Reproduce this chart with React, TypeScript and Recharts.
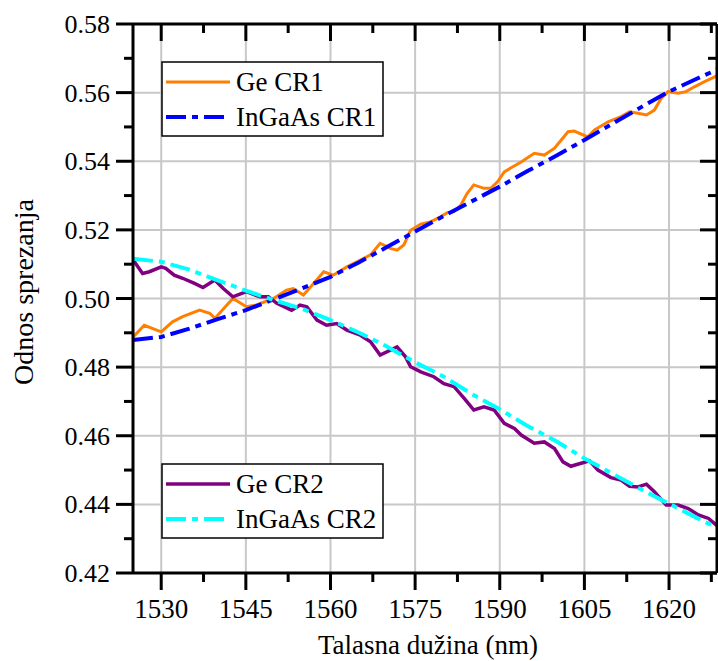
import React from 'react';
import { LineChart, Line, XAxis, YAxis, CartesianGrid, ReferenceLine, Customized } from 'recharts';

const FONT = 'Liberation Serif';

// plot frame size, used only for the mirrored ticks on the top / right edges
const PLOT_H = 549;
const PLOT_W = 584;

// tick labels
const xMajor = [1530, 1545, 1560, 1575, 1590, 1605, 1620];
const xMinor = [1537.5, 1552.5, 1567.5, 1582.5, 1597.5, 1612.5, 1627.5];
const yMajor = [0.42, 0.44, 0.46, 0.48, 0.5, 0.52, 0.54, 0.56, 0.58];
const yMinor = [0.43, 0.45, 0.47, 0.49, 0.51, 0.53, 0.55, 0.57];

// Ge CR1
const geCr1Wl = [
  1525, 1527, 1530, 1532, 1533.8, 1536.8, 1538.6, 1539.5, 1542.7, 1545.1, 1546.9, 1549.9,
  1552.2, 1553.4, 1555.2, 1557, 1558.8, 1560.5, 1562.9, 1565.3, 1567.1, 1568.8, 1570.6,
  1571.8, 1573, 1574.2, 1576, 1577.8, 1579.5, 1580.7, 1581.9, 1583.1, 1584.2, 1585.4,
  1587.2, 1588.4, 1589.6, 1590.8, 1592, 1593.8, 1596.1, 1597.9, 1599.7, 1600.9, 1602.1,
  1603.2, 1605.6, 1606.8, 1609.2, 1611.5, 1613, 1614.5, 1616, 1617.4, 1618.6, 1619.8,
  1621.6, 1623, 1624.5, 1626.3, 1628.1, 1628.5,
];
const geCr1 = [
  0.4887, 0.4922, 0.4903, 0.4932, 0.4947, 0.4966, 0.4957, 0.4942, 0.5, 0.4976, 0.4981, 0.5,
  0.5024, 0.5029, 0.501, 0.5044, 0.5078, 0.5068, 0.5092, 0.5112, 0.5127, 0.5161, 0.5146,
  0.5141, 0.5156, 0.5199, 0.5217, 0.5224, 0.5238, 0.525, 0.5253, 0.5272, 0.5306, 0.5331,
  0.5321, 0.5321, 0.534, 0.5369, 0.5381, 0.5398, 0.5423, 0.5418, 0.5438, 0.5462, 0.5486,
  0.5488, 0.5471, 0.5491, 0.5515, 0.553, 0.5544, 0.554, 0.5535, 0.5549, 0.5583, 0.5603,
  0.5598, 0.5603, 0.5617, 0.5632, 0.5646, 0.565,
];

// Ge CR2
const geCr2Wl = [
  1525, 1526.7, 1527.9, 1530, 1530.8, 1532.3, 1533.8, 1535.9, 1537.4, 1539.5, 1541, 1542.7,
  1545.1, 1547.5, 1549, 1550.5, 1553.1, 1554.6, 1555.8, 1557.6, 1559.3, 1561.1, 1562.9,
  1565.3, 1567.1, 1568.8, 1571.8, 1573.3, 1574.2, 1576, 1578.3, 1580.1, 1581.9, 1583.7,
  1585.4, 1587.2, 1589, 1590.8, 1592.6, 1593.8, 1596.1, 1597.9, 1599.7, 1601.2, 1602.6,
  1605.9, 1607.4, 1609.7, 1611.5, 1613, 1614.5, 1616, 1617.4, 1619.5, 1621.6, 1623.4,
  1625.2, 1627, 1628.5,
];
const geCr2 = [
  0.5113, 0.5073, 0.5078, 0.5092, 0.5088, 0.5068, 0.5059, 0.5044, 0.5032, 0.5054, 0.5029, 0.5005,
  0.502, 0.5005, 0.5005, 0.4986, 0.4966, 0.4981, 0.4976, 0.4937, 0.4922, 0.4927, 0.4908,
  0.4893, 0.4874, 0.4835, 0.4859, 0.483, 0.4801, 0.4786, 0.4772, 0.4752, 0.4743, 0.4709,
  0.4675, 0.4684, 0.4675, 0.4636, 0.4621, 0.4602, 0.4578, 0.4582, 0.4563, 0.4524, 0.4511,
  0.4527, 0.45, 0.4478, 0.4471, 0.4453, 0.4451, 0.4459, 0.4437, 0.4398, 0.4398, 0.4388,
  0.4369, 0.4359, 0.4338,
];

// InGaAs
const inGaAsWl = [
  1525, 1530, 1535, 1540, 1545, 1550, 1555, 1560, 1565, 1570, 1575, 1580, 1585, 1590, 1595,
  1600, 1605, 1610, 1615, 1620, 1625, 1628.5,
];
const inGaAsCr1 = [
  0.4879, 0.4888, 0.4912, 0.494, 0.4966, 0.4998, 0.503, 0.5063, 0.5105, 0.515, 0.5195, 0.524,
  0.5283, 0.5326, 0.5372, 0.5416, 0.5462, 0.551, 0.5557, 0.5603, 0.5641, 0.5667,
];
const inGaAsCr2 = [
  0.5116, 0.5107, 0.5084, 0.5053, 0.5023, 0.4995, 0.497, 0.4937, 0.4901, 0.486, 0.4814, 0.4773,
  0.4722, 0.4677, 0.4628, 0.4584, 0.4534, 0.4489, 0.4444, 0.4402, 0.436, 0.4332,
];

const pts = (xs: number[], ys: number[]) => xs.map((x, i) => ({ x, y: ys[i] }));

const series = [
  { name: 'Ge CR1', data: pts(geCr1Wl, geCr1), color: '#ff8000', width: 3, dash: undefined },
  { name: 'InGaAs CR1', data: pts(inGaAsWl, inGaAsCr1), color: '#0000ff', width: 4, dash: '20 6 6 6' },
  { name: 'Ge CR2', data: pts(geCr2Wl, geCr2), color: '#800080', width: 3.5, dash: undefined },
  { name: 'InGaAs CR2', data: pts(inGaAsWl, inGaAsCr2), color: '#00ffff', width: 4, dash: '20 6 6 6' },
];

// bottom ticks point out (down), mirrored top ticks point in (down too)
const XTick = (props: any) => {
  const { x, y, payload } = props;
  const major = xMajor.includes(payload.value);
  const len = major ? 17 : 9;
  const top = y - PLOT_H;
  return (
    <g>
      <line x1={x} x2={x} y1={y} y2={y + len} stroke="#000" strokeWidth={3} />
      <line x1={x} x2={x} y1={top} y2={top + len} stroke="#000" strokeWidth={3} />
      {major && (
        <text x={x} y={y + 45} textAnchor="middle" fontSize={27} fontFamily={FONT} fill="#000">
          {payload.value}
        </text>
      )}
    </g>
  );
};

// left ticks point out (left), mirrored right ticks point in (left too)
const YTick = (props: any) => {
  const { x, y, payload } = props;
  const major = yMajor.includes(payload.value);
  const len = major ? 17 : 9;
  const right = x + PLOT_W;
  return (
    <g>
      <line x1={x} x2={x - len} y1={y} y2={y} stroke="#000" strokeWidth={3} />
      <line x1={right} x2={right - len} y1={y} y2={y} stroke="#000" strokeWidth={3} />
      {major && (
        <text x={x - 23} y={y + 9} textAnchor="end" fontSize={26} fontFamily={FONT} fill="#000">
          {payload.value.toFixed(2)}
        </text>
      )}
    </g>
  );
};

const LegendBox = ({ top, items }: { top: number; items: typeof series }) => (
  <g>
    <rect x={162} y={top} width={221} height={74} fill="#fff" stroke="#000" strokeWidth={1.5} />
    {items.map((s, i) => {
      const cy = top + 20 + i * 35;
      return (
        <g key={s.name}>
          <line x1={166} x2={230} y1={cy} y2={cy} stroke={s.color} strokeWidth={s.width} strokeDasharray={s.dash} />
          <text x={236} y={cy + 9} fontSize={27} fontFamily={FONT} fill="#000">
            {s.name}
          </text>
        </g>
      );
    })}
  </g>
);

const Overlay = () => (
  <g>
    <text x={33} y={292} transform="rotate(-90 33 292)" textAnchor="middle" fontSize={28} fontFamily={FONT} fill="#000">
      Odnos sprezanja
    </text>
    <text x={428} y={654} textAnchor="middle" fontSize={27} fontFamily={FONT} fill="#000">
      Talasna dužina (nm)
    </text>
    <LegendBox top={62} items={[series[0], series[1]]} />
    <LegendBox top={464} items={[series[2], series[3]]} />
  </g>
);

const xTicks = [...xMajor, ...xMinor].sort((a, b) => a - b);
const yTicks = [...yMajor, ...yMinor].sort((a, b) => a - b);

export default function App() {
  return (
    <div style={{ position: 'absolute', left: 0, top: 0, background: '#fff', fontFamily: FONT }}>
      <LineChart
        width={718}
        height={661}
        margin={{ top: 24, right: 1, bottom: 0, left: 0 }}
        style={{ fontFamily: FONT }}
      >
        <CartesianGrid
          stroke="#c8c8c8"
          strokeWidth={2}
          horizontalValues={yMajor}
          verticalValues={xMajor}
        />
        <XAxis
          type="number"
          dataKey="x"
          domain={[1525, 1628.5]}
          allowDataOverflow
          ticks={xTicks}
          interval={0}
          height={88}
          tickSize={0}
          tickMargin={0}
          tickLine={false}
          axisLine={{ stroke: '#000', strokeWidth: 3 }}
          tick={(p: any) => <XTick {...p} />}
        />
        <YAxis
          type="number"
          domain={[0.42, 0.58]}
          allowDataOverflow
          ticks={yTicks}
          interval={0}
          width={133}
          tickSize={0}
          tickMargin={0}
          tickLine={false}
          axisLine={{ stroke: '#000', strokeWidth: 3 }}
          tick={(p: any) => <YTick {...p} />}
        />
        {series.map((s) => (
          <Line
            key={s.name}
            data={s.data}
            dataKey="y"
            type="linear"
            stroke={s.color}
            strokeWidth={s.width}
            strokeDasharray={s.dash}
            dot={false}
            activeDot={false}
            isAnimationActive={false}
          />
        ))}
        <ReferenceLine y={0.58} stroke="#000" strokeWidth={3} />
        <ReferenceLine x={1628.5} stroke="#000" strokeWidth={3} />
        <Customized component={Overlay} />
      </LineChart>
    </div>
  );
}
